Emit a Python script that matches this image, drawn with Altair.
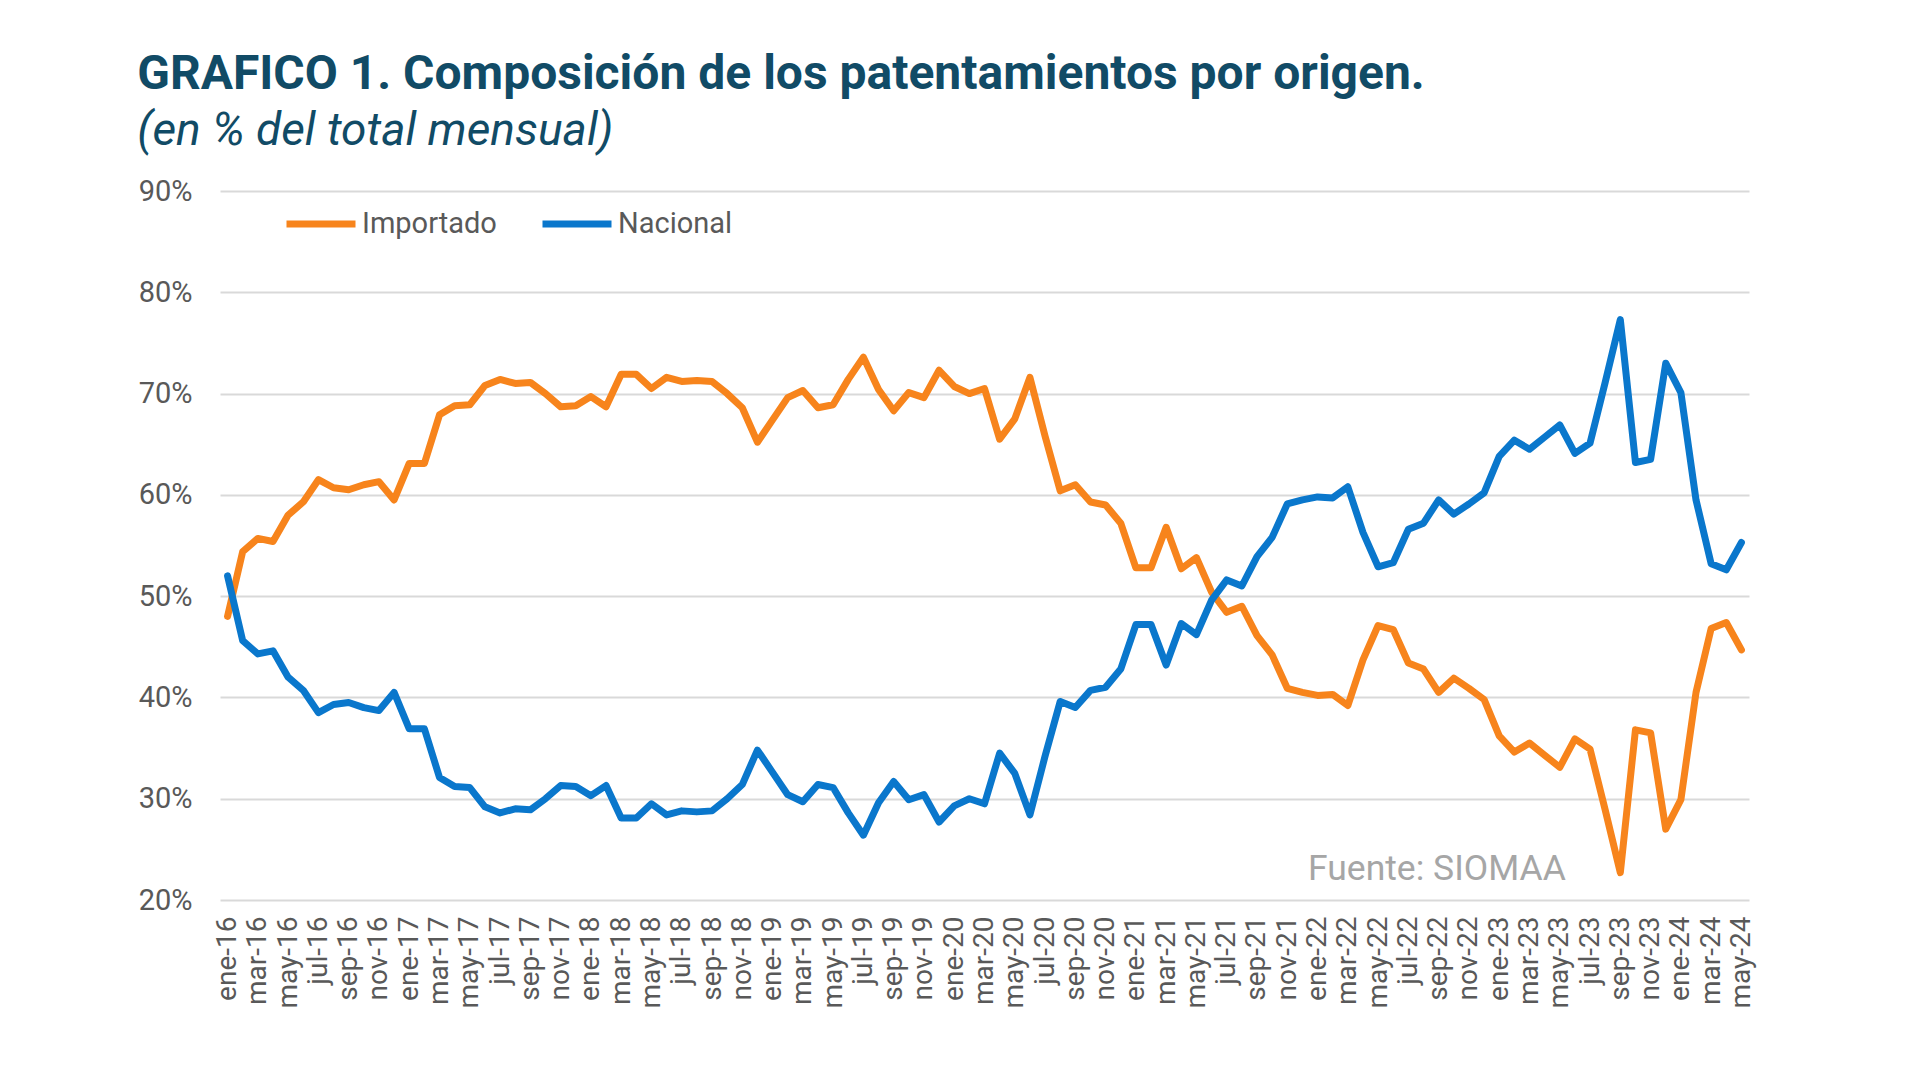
import altair as alt
import pandas as pd

# ---- data (% of monthly total) ----
meses_abrev = ["ene", "feb", "mar", "abr", "may", "jun", "jul", "ago", "sep", "oct", "nov", "dic"]
anios = ["16", "17", "18", "19", "20", "21", "22", "23", "24"]
meses = [f"{m}-{a}" for a in anios for m in meses_abrev][:101]  # ene-16 ... may-24

importado = [
    48.0, 54.4, 55.7, 55.4, 58.0, 59.3, 61.5, 60.7, 60.5, 61.0, 61.3, 59.5,
    63.1, 63.1, 67.9, 68.8, 68.9, 70.8, 71.4, 71.0, 71.1, 70.0, 68.7, 68.8,
    69.7, 68.7, 71.9, 71.9, 70.5, 71.6, 71.2, 71.3, 71.2, 70.0, 68.6, 65.2,
    67.4, 69.6, 70.3, 68.6, 68.9, 71.4, 73.6, 70.4, 68.3, 70.1, 69.6, 72.3,
    70.7, 70.0, 70.5, 65.5, 67.5, 71.6, 65.8, 60.4, 61.0, 59.3, 59.0, 57.2,
    52.8, 52.8, 56.8, 52.7, 53.8, 50.4, 48.4, 49.0, 46.1, 44.2, 40.9, 40.5,
    40.2, 40.3, 39.2, 43.7, 47.1, 46.7, 43.4, 42.8, 40.5, 41.9, 40.9, 39.8,
    36.2, 34.6, 35.5, 34.3, 33.1, 35.9, 34.9, 28.9, 22.7, 36.8, 36.5, 27.0,
    29.9, 40.5, 46.8, 47.4, 44.7,
]
nacional = [
    52.0, 45.6, 44.3, 44.6, 42.0, 40.7, 38.5, 39.3, 39.5, 39.0, 38.7, 40.5,
    36.9, 36.9, 32.1, 31.2, 31.1, 29.2, 28.6, 29.0, 28.9, 30.0, 31.3, 31.2,
    30.3, 31.3, 28.1, 28.1, 29.5, 28.4, 28.8, 28.7, 28.8, 30.0, 31.4, 34.8,
    32.6, 30.4, 29.7, 31.4, 31.1, 28.6, 26.4, 29.6, 31.7, 29.9, 30.4, 27.7,
    29.3, 30.0, 29.5, 34.5, 32.5, 28.4, 34.2, 39.6, 39.0, 40.7, 41.0, 42.8,
    47.2, 47.2, 43.2, 47.3, 46.2, 49.6, 51.6, 51.0, 53.9, 55.8, 59.1, 59.5,
    59.8, 59.7, 60.8, 56.3, 52.9, 53.3, 56.6, 57.2, 59.5, 58.1, 59.1, 60.2,
    63.8, 65.4, 64.5, 65.7, 66.9, 64.1, 65.1, 71.1, 77.3, 63.2, 63.5, 73.0,
    70.1, 59.5, 53.2, 52.6, 55.3,
]
series = ["Importado", "Nacional"]
colores = ["#F7841C", "#0A77CC"]
y_ticks = [20, 30, 40, 50, 60, 70, 80, 90]
fuente = "Fuente: SIOMAA"

df = pd.DataFrame({
    "mes": meses * 2,
    "origen": [series[0]] * len(meses) + [series[1]] * len(meses),
    "valor": importado + nacional,
})

W, H = 1529, 709
GRAY = "#595959"

lines = alt.Chart(df).mark_line(strokeWidth=7, strokeCap="round", strokeJoin="round").encode(
    x=alt.X("mes:O", sort=meses, title=None,
            scale=alt.Scale(padding=0.5),
            axis=alt.Axis(values=meses[::2], labelAngle=-90, labelFont="Roboto",
                          labelFontSize=28, labelColor=GRAY, labelPadding=16,
                          ticks=False, domain=False, grid=False)),
    y=alt.Y("valor:Q", title=None,
            scale=alt.Scale(domain=[20, 90], nice=False, zero=False),
            axis=alt.Axis(values=y_ticks, labelExpr="datum.value + '%'", labelFont="Roboto",
                          labelFontSize=29, labelColor=GRAY, labelPadding=28,
                          ticks=False, domain=False, grid=True, gridColor="#D9D9D9",
                          gridWidth=2)),
    color=alt.Color("origen:N", title=None,
                    scale=alt.Scale(domain=series, range=colores),
                    legend=alt.Legend(orient="none", legendX=63, legendY=-5,
                                      direction="horizontal", symbolType="stroke",
                                      symbolSize=4761, symbolStrokeWidth=7,
                                      labelFont="Roboto", labelFontSize=29,
                                      labelColor=GRAY, labelOffset=3,
                                      columnPadding=31)),
)

src = alt.Chart(pd.DataFrame({"t": [fuente]})).mark_text(
    align="left", baseline="alphabetic", font="Roboto", fontSize=35.5, color="#A6A6A6"
).encode(x=alt.value(1088), y=alt.value(689), text="t:N")

chart = alt.layer(lines, src).properties(
    width=W, height=H,
    autosize=alt.AutoSizeParams(type="none"),
    padding={"left": 220, "top": 191, "right": 171, "bottom": 180},
    background="white",
    title=alt.TitleParams(
        text="GRAFICO 1. Composición de los patentamientos por origen.",
        subtitle="(en % del total mensual)",
        anchor="start", frame="bounds", dx=-1, offset=23,
        font="Roboto", fontSize=48, fontWeight="bold", color="#114B66",
        subtitleFont="Roboto", subtitleFontSize=46, subtitleFontStyle="italic",
        subtitleColor="#114B66", subtitlePadding=10,
    ),
).configure_view(stroke=None)

chart.save("out.html", embed_options={"renderer": "svg", "actions": False})
